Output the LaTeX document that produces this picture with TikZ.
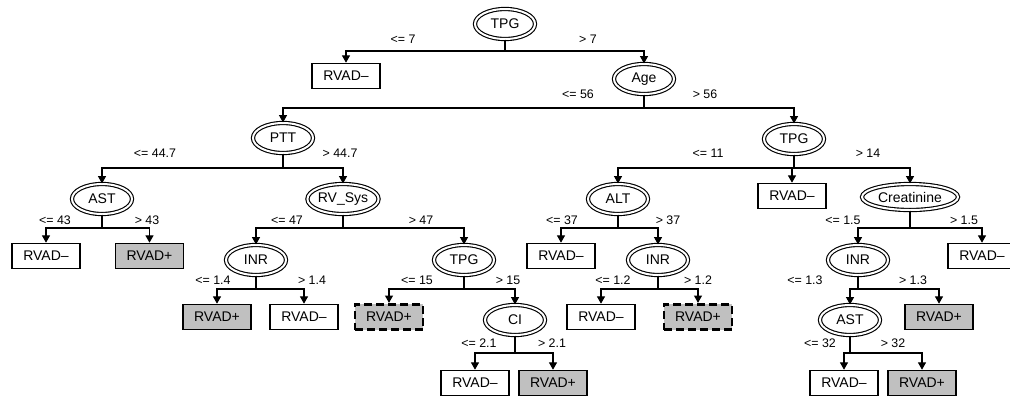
\documentclass[tikz,border=0pt]{standalone}
\usepackage{fontspec}
\setmainfont{Liberation Sans}
\usetikzlibrary{shapes.geometric,arrows.meta}
\definecolor{leafgray}{RGB}{192,192,192}
\newcommand\mynodefont{\fontsize{10.5}{12}\selectfont}
\newcommand\mylabelfont{\fontsize{9.3}{11}\selectfont}
\newcommand\treelink[3]{\draw[link] (#1.south) -- (#1.south |- #2) -| (#3.north);}
\tikzset{
  decision/.style={ellipse, draw, double, double distance=1.5pt, line width=0.85pt,
    minimum width=45pt, minimum height=22.5pt, inner sep=0pt, font=\mynodefont},
  leafbox/.style={rectangle, draw, line width=0.95pt, minimum width=51pt,
    minimum height=19pt, inner sep=0pt, font=\mynodefont},
  posleaf/.style={leafbox, fill=leafgray},
  dashleaf/.style={leafbox, fill=leafgray, line width=2.2pt, dash pattern=on 6pt off 3pt},
  cond/.style={font=\mylabelfont, inner sep=0pt},
  link/.style={line width=0.85pt, -{Triangle[width=6pt,length=5.5pt]}}
}
\begin{document}
\begin{tikzpicture}[x=0.75pt,y=-0.75pt]
\useasboundingbox (0,0) rectangle (1010,401);
% decision nodes
\node[decision] (tpgA) at (505,24) {TPG};
\node[decision] (age)  at (644,79) {Age};
\node[decision] (ptt)  at (283,138) {PTT};
\node[decision] (tpgB) at (794,139) {TPG};
\node[decision] (astA) at (102,199) {AST};
\node[decision] (rvs)  at (343,199) {RV\_Sys};
\node[decision] (alt)  at (618,199) {ALT};
\node[decision, minimum width=72pt, minimum height=19.5pt] (crea) at (910,197) {Creatinine};
\node[decision] (inrA) at (256,260) {INR};
\node[decision] (tpgC) at (464,260) {TPG};
\node[decision] (inrB) at (658,260) {INR};
\node[decision] (inrC) at (858,260) {INR};
\node[decision] (ci)   at (515,320) {CI};
\node[decision] (astB) at (850,320) {AST};
% leaves
\node[leafbox] (r1) at (346,76) {RVAD–};
\node[leafbox] (r2) at (792,196) {RVAD–};
\node[leafbox] (r3) at (46,256) {RVAD–};
\node[posleaf] (p1) at (149.5,256) {RVAD+};
\node[leafbox] (r4) at (561,256) {RVAD–};
\node[leafbox] (r5) at (982,256) {RVAD–};
\node[posleaf] (p2) at (217,317) {RVAD+};
\node[leafbox] (r6) at (304,317) {RVAD–};
\node[dashleaf] (p3) at (389,317) {RVAD+};
\node[leafbox] (r7) at (601,317) {RVAD–};
\node[dashleaf] (p4) at (698,317) {RVAD+};
\node[posleaf] (p5) at (939,317) {RVAD+};
\node[leafbox] (r8) at (475,383) {RVAD–};
\node[posleaf] (p6) at (553,383) {RVAD+};
\node[leafbox] (r9) at (844,383) {RVAD–};
\node[posleaf] (p7) at (922,383) {RVAD+};
% split levels
\coordinate (s1) at (0,51);
\coordinate (s2) at (0,108);
\coordinate (s3) at (0,168);
\coordinate (s4) at (0,228);
\coordinate (s5) at (0,289);
\coordinate (s6) at (0,353);
% connectors
\treelink{tpgA}{s1}{r1}
\treelink{tpgA}{s1}{age}
\treelink{age}{s2}{ptt}
\treelink{age}{s2}{tpgB}
\treelink{ptt}{s3}{astA}
\treelink{ptt}{s3}{rvs}
\treelink{tpgB}{s3}{alt}
\treelink{tpgB}{s3}{r2}
\treelink{tpgB}{s3}{crea}
\treelink{astA}{s4}{r3}
\treelink{astA}{s4}{p1}
\treelink{rvs}{s4}{inrA}
\treelink{rvs}{s4}{tpgC}
\treelink{alt}{s4}{r4}
\treelink{alt}{s4}{inrB}
\treelink{crea}{s4}{inrC}
\treelink{crea}{s4}{r5}
\treelink{inrA}{s5}{p2}
\treelink{inrA}{s5}{r6}
\treelink{tpgC}{s5}{p3}
\treelink{tpgC}{s5}{ci}
\treelink{inrB}{s5}{r7}
\treelink{inrB}{s5}{p4}
\treelink{inrC}{s5}{astB}
\treelink{inrC}{s5}{p5}
\treelink{ci}{s6}{r8}
\treelink{ci}{s6}{p6}
\treelink{astB}{s6}{r9}
\treelink{astB}{s6}{p7}
% condition labels
\node[cond] (l1a) at (403,39) {<= 7};
\node[cond] (l1b) at (588,39) {> 7};
\node[cond] (l2a) at (578,94) {<= 56};
\node[cond] (l2b) at (705,94) {> 56};
\node[cond] (l3a) at (155,153) {<= 44.7};
\node[cond] (l3b) at (340,153) {> 44.7};
\node[cond] (l4a) at (708,153) {<= 11};
\node[cond] (l4b) at (868,153) {> 14};
\node[cond] (l5a) at (55,220) {<= 43};
\node[cond] (l5b) at (147,220) {> 43};
\node[cond] (l6a) at (287,220) {<= 47};
\node[cond] (l6b) at (421,220) {> 47};
\node[cond] (l7a) at (562,220) {<= 37};
\node[cond] (l7b) at (668,220) {> 37};
\node[cond] (l8a) at (843,220) {<= 1.5};
\node[cond] (l8b) at (964,220) {> 1.5};
\node[cond] (l9a) at (213,280) {<= 1.4};
\node[cond] (l9b) at (312,280) {> 1.4};
\node[cond] (l10a) at (417,280) {<= 15};
\node[cond] (l10b) at (508,280) {> 15};
\node[cond] (l11a) at (613,280) {<= 1.2};
\node[cond] (l11b) at (698,280) {> 1.2};
\node[cond] (l12a) at (805,280) {<= 1.3};
\node[cond] (l12b) at (913,280) {> 1.3};
\node[cond] (l13a) at (479,343) {<= 2.1};
\node[cond] (l13b) at (552,343) {> 2.1};
\node[cond] (l14a) at (820,343) {<= 32};
\node[cond] (l14b) at (893,343) {> 32};
\end{tikzpicture}
\end{document}
